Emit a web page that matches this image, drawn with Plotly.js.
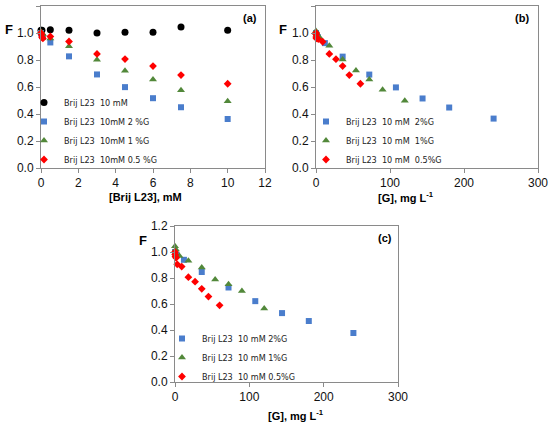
<!DOCTYPE html>
<html><head><meta charset="utf-8">
<script src="https://cdn.plot.ly/plotly-3.0.1.min.js"></script>
<style>html,body{margin:0;padding:0;background:#fff}#chart{width:550px;height:425px}</style>
</head><body><div id="chart"></div>
<script>
// ---------- Panel (a): F vs [Brij L23], mM ----------
const aBlackX = [0, 0.05, 0.5, 1.5, 3, 4.5, 6, 7.5, 10];
const aBlackY = [1.02, 1.02, 1.024, 1.02, 1.0, 1.006, 1.006, 1.045, 1.02];
const aBlueX  = [0, 0.05, 0.1, 0.5, 1.5, 3, 4.5, 6, 7.5, 10];
const aBlueY  = [1.0, 0.98, 0.97, 0.93, 0.827, 0.693, 0.599, 0.517, 0.45, 0.363];
const aGreenX = [0, 0.05, 0.1, 0.5, 1.5, 3, 4.5, 6, 7.5, 10];
const aGreenY = [1.01, 1.0, 0.99, 0.96, 0.902, 0.802, 0.72, 0.656, 0.576, 0.494];
const aRedX   = [0, 0.025, 0.05, 0.1, 0.5, 1.5, 3, 4.5, 6, 7.5, 10];
const aRedY   = [1.0, 0.99, 0.97, 0.96, 0.974, 0.937, 0.845, 0.807, 0.755, 0.688, 0.624];
const aNames  = ["Brij L23  10 mM", "Brij L23  10mM 2 %G", "Brij L23  10mM 1 %G", "Brij L23  10mM 0.5 %G"];

// ---------- Panel (b): F vs [G], mg/L ----------
const bBlueX  = [0, 1.2, 2.4, 12, 36, 72, 108, 144, 180, 240];
const bBlueY  = [1.0, 0.98, 0.97, 0.925, 0.825, 0.692, 0.597, 0.515, 0.448, 0.366];
const bGreenX = [0, 0.6, 1.2, 6, 18, 36, 54, 72, 90, 120];
const bGreenY = [1.015, 1.0, 0.99, 0.96, 0.905, 0.804, 0.722, 0.656, 0.58, 0.498];
const bRedX   = [0, 0.15, 0.3, 0.6, 3, 9, 18, 27, 36, 45, 60];
const bRedY   = [1.0, 0.99, 0.97, 0.96, 0.955, 0.935, 0.845, 0.806, 0.755, 0.688, 0.624];
const bNames  = ["Brij L23  10 mM  2%G", "Brij L23  10 mM  1%G", "Brij L23  10 mM  0.5%G"];

// ---------- Panel (c): F vs [G], mg/L ----------
const cBlueX  = [0, 1.2, 2.4, 12, 36, 72, 108, 144, 180, 240];
const cBlueY  = [1.0, 0.98, 0.975, 0.94, 0.846, 0.727, 0.622, 0.53, 0.469, 0.377];
const cGreenX = [0, 1.2, 6, 18, 36, 54, 72, 90, 120];
const cGreenY = [1.045, 1.02, 0.97, 0.932, 0.88, 0.788, 0.752, 0.70, 0.565];
const cRedX   = [0, 0.3, 0.6, 1.5, 3, 9, 18, 27, 36, 45, 60];
const cRedY   = [1.0, 0.98, 0.965, 0.955, 0.905, 0.888, 0.806, 0.772, 0.717, 0.657, 0.59];
const cNames  = ["Brij L23  10 mM 2%G", "Brij L23  10 mM 1%G", "Brij L23  10 mM 0.5%G"];

const yTicks = [0, 0.2, 0.4, 0.6, 0.8, 1.0, 1.2];

const W = 550, H = 425;
const px = x => x / W;
const py = y => 1 - y / H;

const BLACK = "#000000", BLUE = "#4a7dcc", GREEN = "#52883a", RED = "#ff0000";
const mk = {
  black: {symbol: "circle", size: 7, color: BLACK},
  blue:  {symbol: "square", size: 6, color: BLUE},
  green: {symbol: "triangle-up", size: 7, color: GREEN},
  red:   {symbol: "diamond", size: 6, color: RED}
};

function tr(x, y, name, m, xa, ya, lg) {
  return {x: x, y: y, name: name, type: "scatter", mode: "markers",
          marker: m, xaxis: xa, yaxis: ya, legend: lg, cliponaxis: false};
}

const data = [
  tr(aBlackX, aBlackY, aNames[0], mk.black, "x", "y", "legend"),
  tr(aBlueX,  aBlueY,  aNames[1], mk.blue,  "x", "y", "legend"),
  tr(aGreenX, aGreenY, aNames[2], mk.green, "x", "y", "legend"),
  tr(aRedX,   aRedY,   aNames[3], mk.red,   "x", "y", "legend"),
  tr(bBlueX,  bBlueY,  bNames[0], mk.blue,  "x2", "y2", "legend2"),
  tr(bGreenX, bGreenY, bNames[1], mk.green, "x2", "y2", "legend2"),
  tr(bRedX,   bRedY,   bNames[2], mk.red,   "x2", "y2", "legend2"),
  tr(cBlueX,  cBlueY,  cNames[0], mk.blue,  "x3", "y3", "legend3"),
  tr(cGreenX, cGreenY, cNames[1], mk.green, "x3", "y3", "legend3"),
  tr(cRedX,   cRedY,   cNames[2], mk.red,   "x3", "y3", "legend3")
];

const tickFont = {family: "Liberation Sans, Arial, sans-serif", size: 12, color: "#111"};
const axBase = {
  showline: true, mirror: true, linecolor: "#8a8a8a", linewidth: 1,
  ticks: "outside", ticklen: 4, tickcolor: "#8a8a8a", tickwidth: 1,
  showgrid: false, zeroline: false, tickfont: tickFont, fixedrange: true
};
function xax(dom, range, dtick, anchor) {
  return Object.assign({}, axBase, {domain: dom, range: range, dtick: dtick, tick0: 0, anchor: anchor});
}
function yax(dom, anchor) {
  return Object.assign({}, axBase, {domain: dom, range: [0, 1.2], tickvals: yTicks, tickformat: ".1f", anchor: anchor});
}

const legFont = {family: "Liberation Sans Narrow, DejaVu Sans Condensed, Arial Narrow, sans-serif", size: 9, color: "#222"};
function leg(x, y) {
  return {x: x, y: y, xanchor: "left", yanchor: "top", bgcolor: "rgba(0,0,0,0)",
          borderwidth: 0, font: legFont, itemwidth: 30, tracegroupgap: 0};
}

const bold = {family: "Liberation Sans, Arial, sans-serif", size: 11, color: "#000"};
const boldF = {family: "Liberation Sans, Arial, sans-serif", size: 13, color: "#000"};
function ann(x, y, text, font) {
  return {xref: "paper", yref: "paper", x: px(x), y: py(y), text: text, showarrow: false,
          xanchor: "center", yanchor: "middle", font: font};
}

const layout = {
  width: W, height: H,
  margin: {l: 0, r: 0, t: 0, b: 0},
  paper_bgcolor: "#fff", plot_bgcolor: "#fff",
  showlegend: true,
  xaxis:  xax([px(41), px(265)], [0, 12], 2, "y"),
  yaxis:  yax([py(168), py(6)], "x"),
  xaxis2: xax([px(316), px(538)], [0, 300], 100, "y2"),
  yaxis2: yax([py(168), py(6)], "x2"),
  xaxis3: xax([px(175), px(398)], [0, 300], 100, "y3"),
  yaxis3: yax([py(382), py(226)], "x3"),
  legend:  leg(px(24), py(88)),
  legend2: leg(px(306), py(107)),
  legend3: leg(px(162), py(324)),
  annotations: [
    ann(145, 197, "<b>[Brij L23], mM</b>", bold),
    ann(406, 197, "<b>[G], mg L<sup>-1</sup></b>", bold),
    ann(296, 415, "<b>[G], mg L<sup>-1</sup></b>", bold),
    ann(9, 30, "<b>F</b>", boldF),
    ann(283, 30, "<b>F</b>", boldF),
    ann(143, 240, "<b>F</b>", boldF),
    ann(250, 18, "<b>(a)</b>", bold),
    ann(522, 18, "<b>(b)</b>", bold),
    ann(385, 238, "<b>(c)</b>", bold)
  ]
};

Plotly.newPlot("chart", data, layout, {staticPlot: true, displayModeBar: false});
</script>
</body></html>
